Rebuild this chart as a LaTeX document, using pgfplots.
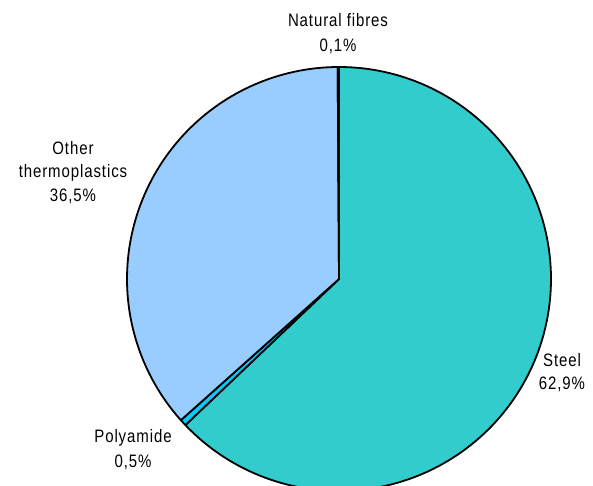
\documentclass[border=0pt]{standalone}
\usepackage{pgfplots}
\pgfplotsset{compat=1.18}
\usepackage{fontspec}
\setmainfont{Liberation Sans}[LetterSpace=6]
\definecolor{steel}{HTML}{33CCCC}
\definecolor{polyam}{HTML}{00CCFF}
\definecolor{otherth}{HTML}{99CCFF}
\definecolor{natfib}{HTML}{FFFFCC}
% shares in percent
\def\pSteel{62.9}
\def\pPoly{0.5}
\def\pOther{36.5}
\def\pNat{0.1}
\pgfmathsetmacro\aA{90}
\pgfmathsetmacro\aB{\aA-\pSteel*3.6}
\pgfmathsetmacro\aC{\aB-\pPoly*3.6}
\pgfmathsetmacro\aD{\aC-\pOther*3.6}
\pgfmathsetmacro\aE{\aD-\pNat*3.6}
\def\cx{339}
\def\cy{207}
\def\R{212}
\newcommand{\lbl}[1]{\scalebox{1}[1.2]{\fontsize{15}{17}\selectfont #1}}
\begin{document}
\begin{tikzpicture}
\path[use as bounding box] (0,0) rectangle (593pt,486pt);
\begin{axis}[
  at={(0,0)}, anchor=south west,
  scale only axis, width=593pt, height=486pt,
  xmin=0, xmax=593, ymin=0, ymax=486,
  hide axis, clip=true,
]
\addplot[fill=steel, draw=black, line width=1.8pt, line join=round, domain=\aB:\aA, samples=150, variable=\t]
  ({\cx+\R*cos(\t)}, {\cy+\R*sin(\t)}) -- (axis cs:\cx,\cy) -- cycle;
\addplot[fill=polyam, draw=black, line width=1.8pt, line join=round, domain=\aC:\aB, samples=5, variable=\t]
  ({\cx+\R*cos(\t)}, {\cy+\R*sin(\t)}) -- (axis cs:\cx,\cy) -- cycle;
\addplot[fill=otherth, draw=black, line width=1.8pt, line join=round, domain=\aD:\aC, samples=120, variable=\t]
  ({\cx+\R*cos(\t)}, {\cy+\R*sin(\t)}) -- (axis cs:\cx,\cy) -- cycle;
\addplot[fill=natfib, draw=black, line width=1.8pt, line join=round, domain=\aE:\aD, samples=3, variable=\t]
  ({\cx+\R*cos(\t)}, {\cy+\R*sin(\t)}) -- (axis cs:\cx,\cy) -- cycle;
% labels
\node[anchor=base] at (axis cs:338,459) {\lbl{Natural fibres}};
\node[anchor=base] at (axis cs:338,434) {\lbl{0,1\%}};
\node[anchor=base] at (axis cs:73,331) {\lbl{Other}};
\node[anchor=base] at (axis cs:73,308) {\lbl{thermoplastics}};
\node[anchor=base] at (axis cs:73,284) {\lbl{36,5\%}};
\node[anchor=base] at (axis cs:562,119) {\lbl{Steel}};
\node[anchor=base] at (axis cs:562,96) {\lbl{62,9\%}};
\node[anchor=base] at (axis cs:133,43) {\lbl{Polyamide}};
\node[anchor=base] at (axis cs:133,18) {\lbl{0,5\%}};
\end{axis}
\end{tikzpicture}
\end{document}
